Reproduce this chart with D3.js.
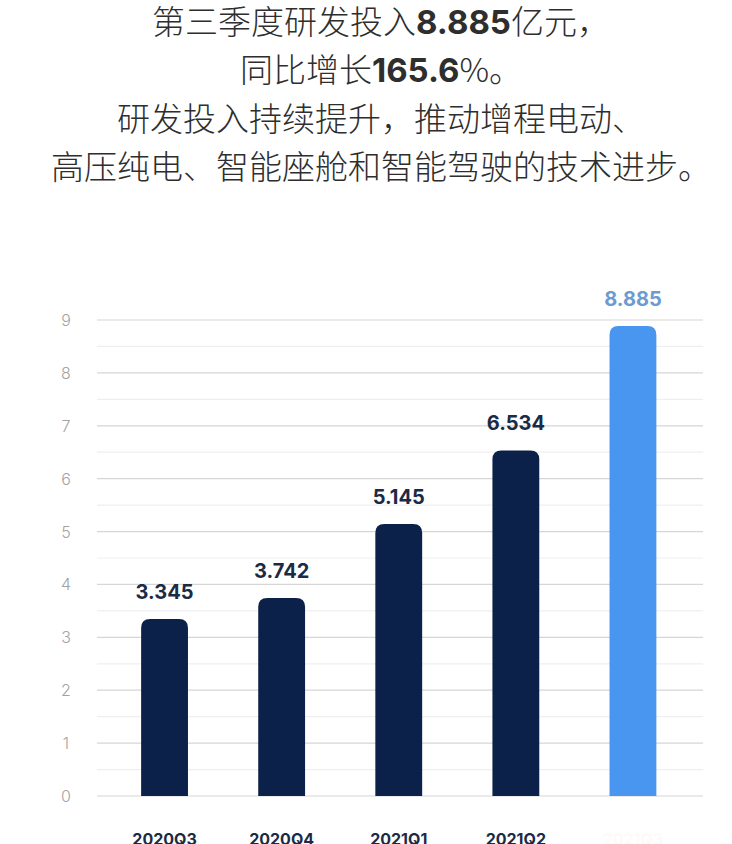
<!DOCTYPE html>
<html>
<head>
    <meta charset="utf-8">
    <title>研发投入</title>
    <style>
        body { margin: 0; background: #fff; }
        svg { display: block; }
    </style>
</head>
<script src="https://d3js.org/d3.v7.js"></script>
<body>
    <div id="chart"></div>
</body>
<script>

// data
var quarters = ["2020Q3", "2020Q4", "2021Q1", "2021Q2", "2021Q3"];
var spend = [3.345, 3.742, 5.145, 6.534, 8.885];
var yTicks = [0, 1, 2, 3, 4, 5, 6, 7, 8, 9];
var titleLines = [
    [["第三季度研发投入", false], ["8.885", true], ["亿元，", false]],
    [["同比增长", false], ["165.6", true], ["%。", false]],
    [["研发投入持续提升，推动增程电动、", false]],
    [["高压纯电、智能座舱和智能驾驶的技术进步。", false]]
];

var width = 732, height = 844;

var svg = d3.select('#chart').append('svg')
    .attr('width', width)
    .attr('height', height);

// title
var title = svg.append('g')
    .attr('font-family', '"Noto Sans CJK SC", "Noto Sans", sans-serif')
    .attr('font-size', 33)
    .attr('fill', '#2e2e2e');

titleLines.forEach(function(parts, i) {
    var t = title.append('text')
        .attr('x', 381)
        .attr('y', 34 + i * 48.3)
        .attr('text-anchor', 'middle');
    parts.forEach(function(p) {
        t.append('tspan')
            .attr('font-weight', p[1] ? 700 : 300)
            .attr('font-family', p[1] ? '"Inter", "Roboto", sans-serif' : null)
            .text(p[0]);
    });
});

// scales
var x = d3.scaleBand()
    .domain(quarters)
    .range([106, 691.5])
    .paddingInner(0.6)
    .paddingOuter(0.3);

var y = d3.scaleLinear()
    .domain([0, 9])
    .range([796, 320]);

// gridlines, half steps lighter
var halfTicks = d3.range(0.5, 9, 1);
svg.append('g').selectAll('line')
    .data(halfTicks)
    .enter().append('line')
    .attr('x1', 97).attr('x2', 703)
    .attr('y1', d => y(d)).attr('y2', d => y(d))
    .attr('stroke', '#efefef')
    .attr('stroke-width', 1.2);

svg.append('g').selectAll('line')
    .data(yTicks)
    .enter().append('line')
    .attr('x1', 97).attr('x2', 703)
    .attr('y1', d => y(d)).attr('y2', d => y(d))
    .attr('stroke', '#d6d6d6')
    .attr('stroke-width', 1.2);

// y labels
svg.append('g').selectAll('text')
    .data(yTicks)
    .enter().append('text')
    .attr('x', 66)
    .attr('y', d => y(d) + 6)
    .attr('text-anchor', 'middle')
    .attr('font-family', '"Inter", "Roboto", sans-serif')
    .attr('font-weight', 300)
    .attr('font-size', 16)
    .attr('fill', '#a3a3a3')
    .text(d => d);

// bars with rounded tops
function barPath(x0, w, top, bottom, r) {
    return 'M' + x0 + ',' + bottom +
        'V' + (top + r) +
        'Q' + x0 + ',' + top + ' ' + (x0 + r) + ',' + top +
        'H' + (x0 + w - r) +
        'Q' + (x0 + w) + ',' + top + ' ' + (x0 + w) + ',' + (top + r) +
        'V' + bottom + 'Z';
}

var last = quarters.length - 1;

svg.append('g').selectAll('path')
    .data(spend)
    .enter().append('path')
    .attr('d', (d, i) => barPath(x(quarters[i]), x.bandwidth(), y(d), y(0), 9))
    .attr('fill', (d, i) => i === last ? '#4896ef' : '#0b2149');

// value labels
svg.append('g').selectAll('text')
    .data(spend)
    .enter().append('text')
    .attr('x', (d, i) => x(quarters[i]) + x.bandwidth() / 2)
    .attr('y', d => y(d) - 20)
    .attr('text-anchor', 'middle')
    .attr('font-family', '"Inter", "Roboto", sans-serif')
    .attr('font-weight', 700)
    .attr('font-size', 20)
    .attr('fill', (d, i) => i === last ? '#6b9bd0' : '#1b2b45')
    .text(d => d3.format('.3f')(d));

// category labels (the last one is nearly white in the source)
svg.append('g').selectAll('text')
    .data(quarters)
    .enter().append('text')
    .attr('x', d => x(d) + x.bandwidth() / 2)
    .attr('y', 845)
    .attr('text-anchor', 'middle')
    .attr('font-family', '"Inter", "Roboto", sans-serif')
    .attr('font-weight', 700)
    .attr('font-size', 16)
    .attr('fill', (d, i) => i === last ? '#fcfbf7' : '#1b2b45')
    .text(d => d);

</script>
</html>
